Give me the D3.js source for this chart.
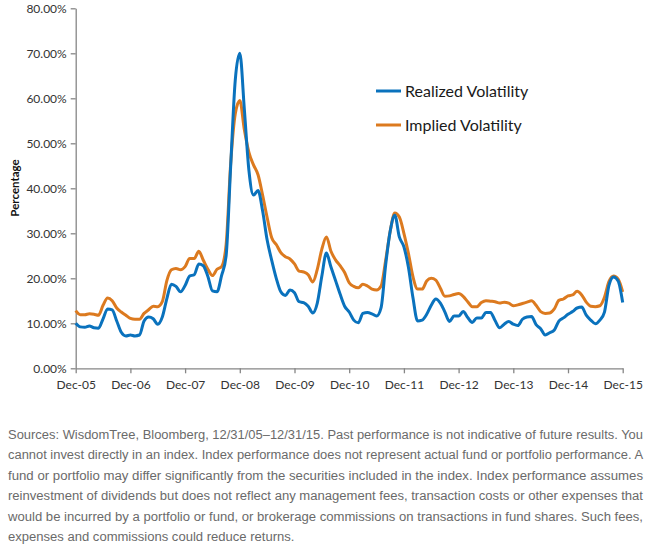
<!DOCTYPE html>
<html>
<head>
<meta charset="utf-8">
<script src="https://cdn.jsdelivr.net/npm/d3@7"></script>
<style>
  body { margin: 0; background: #fff; }
  svg { display: block; }
</style>
</head>
<body>
<div id="chart"></div>
<script>
// monthly readings, Dec-05 .. Dec-15 (121 points)
var realized = [
  10.0, 9.2, 9.1, 9.4, 9.0, 8.9, 11.0, 13.2, 13.0, 10.5, 8.0, 7.2,
  7.4, 7.2, 7.4, 10.5, 11.4, 11.0, 9.8, 11.4, 15.5, 18.7, 18.2, 17.0,
  18.4, 20.5, 20.8, 23.2, 22.8, 20.4, 17.2, 17.0, 20.6, 25.0, 45.0, 64.0,
  70.0, 57.5, 44.0, 38.5, 39.5, 35.0, 28.5, 24.0, 20.0, 17.0, 16.2, 17.4,
  16.8, 14.8, 14.6, 13.8, 12.3, 14.5, 20.5, 25.6, 22.5, 19.5, 16.5, 13.8,
  12.5, 10.7, 10.1, 12.2, 12.4, 12.1, 11.6, 13.5, 23.0, 30.5, 34.0, 29.2,
  27.0, 22.4, 15.6, 10.5, 10.7, 12.0, 14.0, 15.4, 14.5, 12.5, 10.4, 11.6,
  11.6, 12.6, 11.3, 10.2, 11.2, 11.2, 12.4, 12.4, 10.6, 9.0, 9.8, 10.4,
  9.8, 9.5, 10.9, 11.4, 11.5, 9.7, 8.8, 7.4, 7.9, 8.5, 10.5, 11.2,
  12.0, 12.6, 13.4, 13.6, 11.8, 10.7, 9.9, 10.7, 12.5, 18.5, 20.3, 19.4,
  14.6
];
var implied = [
  12.8, 11.9, 11.9, 12.1, 12.0, 11.8, 14.0, 15.6, 15.0, 13.4, 12.5, 11.8,
  11.1, 10.9, 10.9, 12.2, 13.0, 13.8, 13.7, 14.8, 19.5, 21.9, 22.2, 21.9,
  22.6, 24.4, 24.4, 26.0, 24.0, 22.0, 20.6, 22.0, 22.6, 27.5, 45.5, 56.5,
  59.5, 53.0, 48.0, 45.2, 43.0, 38.5, 33.5, 29.0, 27.5, 25.7, 24.8, 24.3,
  23.2, 21.6, 21.4, 20.8, 19.2, 22.0, 26.5, 29.2, 26.0, 24.1, 22.8, 21.3,
  19.0, 18.2, 17.9, 18.7, 18.3, 17.6, 17.4, 18.3, 24.0, 30.5, 34.5, 33.6,
  30.0, 25.5, 20.3, 17.6, 17.6, 19.4, 20.0, 19.6, 17.8, 16.0, 16.1, 16.4,
  16.6, 16.0, 14.8, 13.7, 13.7, 14.6, 15.0, 14.9, 14.8, 14.5, 14.7, 14.5,
  13.9, 14.1, 14.4, 14.7, 15.0, 14.0, 12.6, 12.2, 12.3, 13.2, 15.1, 15.4,
  16.1, 16.3, 17.1, 16.3, 14.7, 13.8, 13.7, 13.9, 15.8, 19.3, 20.5, 19.8,
  17.0
];
var xLabels = ["Dec-05", "Dec-06", "Dec-07", "Dec-08", "Dec-09", "Dec-10",
               "Dec-11", "Dec-12", "Dec-13", "Dec-14", "Dec-15"];
var yTicks = [0, 0.1, 0.2, 0.3, 0.4, 0.5, 0.6, 0.7, 0.8];
var seriesNames = ["Realized Volatility", "Implied Volatility"];
var seriesColors = ["#0a72bd", "#dc7a1f"];
var footnote = [
  "Sources: WisdomTree, Bloomberg, 12/31/05\u201312/31/15. Past performance is not indicative of future results. You",
  "cannot invest directly in an index. Index performance does not represent actual fund or portfolio performance. A",
  "fund or portfolio may differ significantly from the securities included in the index. Index performance assumes",
  "reinvestment of dividends but does not reflect any management fees, transaction costs or other expenses that",
  "would be incurred by a portfolio or fund, or brokerage commissions on transactions in fund shares. Such fees,",
  "expenses and commissions could reduce returns."
];

var W = 651, H = 553;
var svg = d3.select("#chart").append("svg")
    .attr("width", W)
    .attr("height", H);

var x = d3.scaleLinear().domain([0, 120]).range([75.7, 622.7]);
var y = d3.scaleLinear().domain([0, 0.8]).range([368.3, 8.3]);

var axisColor = "#868686";
var tickFont = "Lato, 'Open Sans', sans-serif";

// y axis
var yAxis = svg.append("g")
  .attr("transform", "translate(" + x(0) + ",0)")
  .call(d3.axisLeft(y).tickValues(yTicks).tickFormat(d3.format(".2%"))
        .tickSize(5).tickSizeOuter(0).tickPadding(4));
yAxis.select(".domain").attr("stroke", axisColor).attr("stroke-width", 1.3);
yAxis.selectAll(".tick line").attr("stroke", axisColor).attr("stroke-width", 1.3);
yAxis.selectAll(".tick text")
  .attr("fill", "#333")
  .style("font-family", tickFont)
  .style("font-size", "12px");

// x axis
var xAxis = svg.append("g")
  .attr("transform", "translate(0," + y(0) + ")")
  .call(d3.axisBottom(x).tickValues(d3.range(0, 121, 12))
        .tickFormat(function(d, i) { return xLabels[i]; })
        .tickSize(5).tickSizeOuter(0).tickPadding(7));
xAxis.select(".domain").attr("stroke", axisColor).attr("stroke-width", 1.3);
xAxis.selectAll(".tick line").attr("stroke", axisColor).attr("stroke-width", 1.3);
xAxis.selectAll(".tick text")
  .attr("fill", "#333")
  .style("font-family", tickFont)
  .style("font-size", "12px");

// y title
svg.append("text")
  .attr("transform", "translate(19,188) rotate(-90)")
  .attr("text-anchor", "middle")
  .style("font-family", tickFont)
  .style("font-weight", "bold")
  .style("font-size", "11.5px")
  .attr("fill", "#111")
  .text("Percentage");

// lines
var line = d3.line()
  .x(function(d, i) { return x(i); })
  .y(function(d) { return y(d / 100); })
  .curve(d3.curveMonotoneX);

// implied first so realized sits on top
[implied, realized].forEach(function(s, k) {
  svg.append("path")
    .datum(s)
    .attr("fill", "none")
    .attr("stroke", seriesColors[1 - k])
    .attr("stroke-width", 3)
    .attr("stroke-linejoin", "round")
    .attr("d", line);
});

// legend
var legend = svg.append("g");
seriesNames.forEach(function(name, i) {
  var ly = 91 + i * 34;
  legend.append("line")
    .attr("x1", 376).attr("x2", 401)
    .attr("y1", ly).attr("y2", ly)
    .attr("stroke", seriesColors[i])
    .attr("stroke-width", 3);
  legend.append("text")
    .attr("x", 405).attr("y", ly)
    .attr("dy", "0.35em")
    .style("font-family", tickFont)
    .style("font-size", "16px")
    .attr("fill", "#1a1a1a")
    .text(name);
});

// footnote: narrow look by squeezing Liberation Sans, justified lines
var notes = svg.append("g")
  .style("font-family", "'Liberation Sans', Arial, sans-serif")
  .style("font-size", "12.5px")
  .attr("fill", "#6a6a6a");
var noteTexts = footnote.map(function(t, i) {
  return notes.append("text")
    .attr("x", 8)
    .attr("y", 438.5 + i * 20.5)
    .text(t);
});
var ratios = [];
noteTexts.forEach(function(tx, i) {
  if (i < footnote.length - 1) {
    ratios.push(635 / tx.node().getComputedTextLength());
    tx.attr("textLength", 635).attr("lengthAdjust", "spacingAndGlyphs");
  }
});
var last = noteTexts[noteTexts.length - 1];
last.attr("textLength", last.node().getComputedTextLength() * d3.mean(ratios))
    .attr("lengthAdjust", "spacingAndGlyphs");
</script>
</body>
</html>
